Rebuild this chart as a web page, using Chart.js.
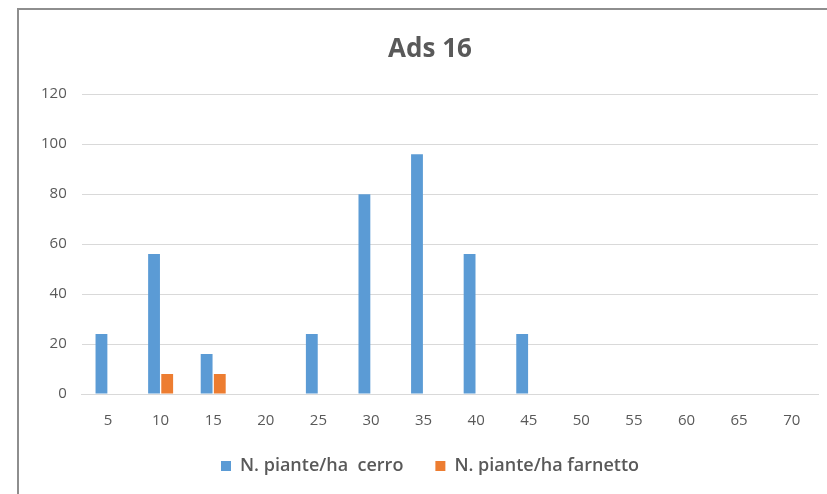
<!DOCTYPE html>
<html>
<head>
<meta charset="utf-8">
<script src="https://cdn.jsdelivr.net/npm/chart.js@4/dist/chart.umd.min.js"></script>
<style>
  html, body { margin: 0; padding: 0; background: #fff; overflow: hidden; }
  #cornice {
    position: absolute; left: 17px; top: 8px;
    width: 826px; height: 486px;
    border-left: 2px solid #8e8e8e; border-top: 2px solid #8e8e8e;
  }
</style>
</head>
<body>
<div id="cornice"><canvas id="grafico" width="826" height="486"></canvas></div>
<script>
const classi = ["5", "10", "15", "20", "25", "30", "35", "40", "45", "50", "55", "60", "65", "70"];
const cerro = [24, 56, 16, 0, 24, 80, 96, 56, 24, 0, 0, 0, 0, 0];
const farnetto = [0, 8, 8, 0, 0, 0, 0, 0, 0, 0, 0, 0, 0, 0];

const grigio = "#595959";
const font = "'Open Sans', 'DejaVu Sans', sans-serif";

const ctx = document.getElementById("grafico").getContext("2d");
new Chart(ctx, {
  type: "bar",
  data: {
    labels: classi,
    datasets: [
      {
        label: "N. piante/ha  cerro",
        data: cerro,
        backgroundColor: "#5B9BD5",
        categoryPercentage: 0.5,
        barPercentage: 0.9,
      },
      {
        label: "N. piante/ha farnetto",
        data: farnetto,
        backgroundColor: "#ED7D31",
        categoryPercentage: 0.5,
        barPercentage: 0.9,
      },
    ],
  },
  options: {
    responsive: false,
    animation: false,
    layout: { padding: { left: 23, right: 27, top: 0, bottom: 11 } },
    plugins: {
      title: {
        display: true,
        text: "Ads 16",
        color: grigio,
        font: { family: font, size: 26, weight: "bold" },
        padding: { top: 24, bottom: 29 },
      },
      legend: {
        position: "bottom",
        labels: {
          color: grigio,
          boxWidth: 10,
          boxHeight: 10,
          padding: 32,
          font: { family: font, size: 18, weight: "600" },
        },
      },
      tooltip: { enabled: false },
    },
    scales: {
      x: {
        grid: { display: false },
        border: { color: "#d9d9d9" },
        ticks: { color: grigio, font: { family: font, size: 15 }, padding: 10 },
        // avvicina la legenda alle etichette
        afterFit: (scala) => { scala.height -= 15; },
      },
      y: {
        min: 0,
        max: 120,
        grid: { color: "#d9d9d9", drawTicks: false },
        border: { display: false },
        ticks: { stepSize: 20, color: grigio, font: { family: font, size: 15 }, padding: 15 },
        // toglie lo spazio vuoto a sinistra delle etichette
        afterFit: (scala) => { scala.width -= 16; },
      },
    },
  },
});
</script>
</body>
</html>
